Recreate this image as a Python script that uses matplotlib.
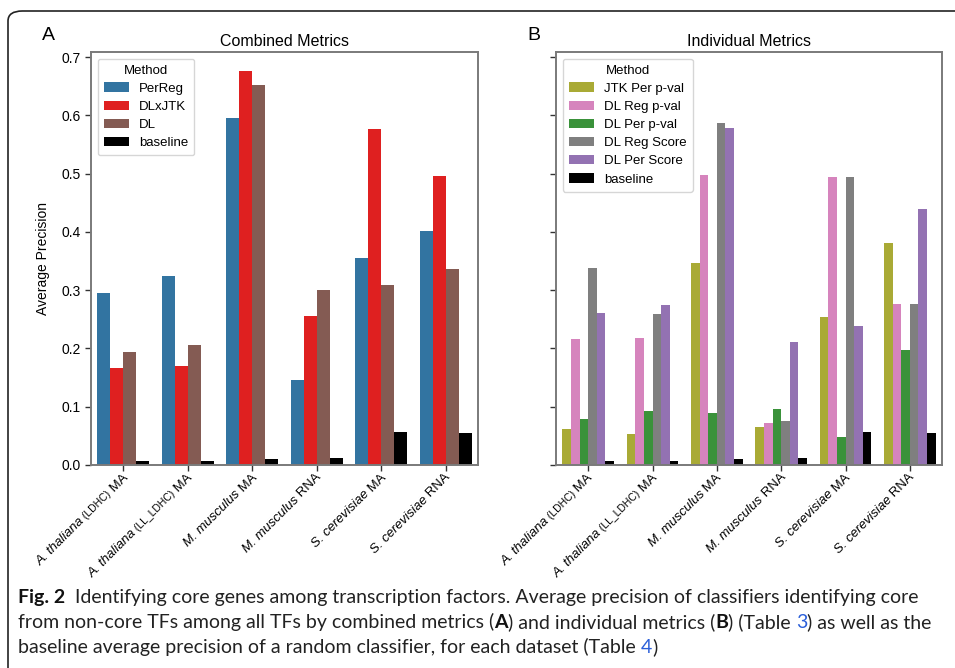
"""Average precision of core-TF classifiers: combined and individual metrics."""

import matplotlib
matplotlib.use("Agg", force=True)
import matplotlib.pyplot as plt
import numpy as np
from matplotlib.patches import FancyBboxPatch
from matplotlib.transforms import IdentityTransform

plt.rcParams["font.family"] = ["Liberation Sans", "DejaVu Sans"]

# dataset labels
species = ["A. thaliana", "A. thaliana", "M. musculus", "M. musculus", "S. cerevisiae", "S. cerevisiae"]
strain = ["(LDHC)", "(LL_LDHC)", "", "", "", ""]
platform = ["MA", "MA", "MA", "RNA", "MA", "RNA"]

# panel A: combined metrics
combined_methods = ["PerReg", "DLxJTK", "DL", "baseline"]
perreg = [0.295, 0.324, 0.595, 0.146, 0.355, 0.401]
dlxjtk = [0.166, 0.170, 0.676, 0.256, 0.576, 0.496]
dl = [0.194, 0.206, 0.653, 0.300, 0.309, 0.336]
baseline = [0.007, 0.007, 0.010, 0.012, 0.057, 0.055]

# panel B: individual metrics
individual_methods = ["JTK Per p-val", "DL Reg p-val", "DL Per p-val", "DL Reg Score", "DL Per Score", "baseline"]
jtk_per_p = [0.062, 0.053, 0.346, 0.065, 0.254, 0.381]
dl_reg_p = [0.216, 0.218, 0.497, 0.072, 0.494, 0.276]
dl_per_p = [0.079, 0.093, 0.089, 0.096, 0.048, 0.197]
dl_reg_score = [0.338, 0.259, 0.587, 0.076, 0.494, 0.276]
dl_per_score = [0.261, 0.274, 0.578, 0.211, 0.238, 0.439]

combined_colors = ["#3274a1", "#df2020", "#845b53", "#000000"]
individual_colors = ["#a9aa35", "#d684bd", "#3a923a", "#7f7f7f", "#9372b2", "#000000"]

W, H = 955, 668
fig = plt.figure(figsize=(W / 100, H / 100), dpi=100)
fig.patch.set_facecolor("white")

# page frame around the figure
frame = FancyBboxPatch((8 / W, -0.2), 1.2, 1 - 11 / H + 0.2, boxstyle="round,pad=0,rounding_size=0.015",
                       transform=fig.transFigure, facecolor="none", edgecolor="#222222", linewidth=1.2)
fig.patches.append(frame)

ax_a = fig.add_axes([91 / W, 1 - 465 / H, (478 - 91) / W, (465 - 52) / H])
ax_b = fig.add_axes([556 / W, 1 - 465 / H, (942 - 556) / W, (465 - 52) / H], sharey=ax_a)


def grouped_bars(ax, series, labels, colors):
    x = np.arange(len(species))
    n = len(series)
    w = 0.8 / n
    for j, (vals, lab, col) in enumerate(zip(series, labels, colors)):
        ax.bar(x + (j - (n - 1) / 2) * w, vals, width=w, color=col, label=lab, linewidth=0)
    ax.set_xlim(-0.5, len(species) - 0.5)
    ax.set_xticks(x)
    ax.set_xticklabels([])
    for side in ["left", "bottom", "top", "right"]:
        ax.spines[side].set_color("#7a7a7a")
        ax.spines[side].set_linewidth(1.4)
    ax.tick_params(axis="both", length=4, width=1, color="#333333", labelsize=10)
    leg = ax.legend(title="Method", loc="upper left", fontsize=9.5, title_fontsize=9.5,
                    handlelength=1.9, handleheight=0.7, borderpad=0.45, labelspacing=0.45)
    leg.get_frame().set_edgecolor("#cccccc")


grouped_bars(ax_a, [perreg, dlxjtk, dl, baseline], combined_methods, combined_colors)
grouped_bars(ax_b, [jtk_per_p, dl_reg_p, dl_per_p, dl_reg_score, dl_per_score, baseline],
             individual_methods, individual_colors)

ax_a.set_ylim(0, 0.709)
ax_a.set_yticks(np.arange(0, 0.71, 0.1))
ax_a.set_yticklabels([f"{v:.1f}" for v in np.arange(0, 0.71, 0.1)])
ax_b.tick_params(axis="y", labelleft=False)
ax_a.set_ylabel("Average Precision", fontsize=10, labelpad=8)
ax_a.set_title("Combined Metrics", fontsize=11.5, pad=4)
ax_b.set_title("Individual Metrics", fontsize=11.5, pad=4)

fig.text(42 / W, 1 - 35 / H, "A", fontsize=14, ha="left", va="center")
fig.text(527 / W, 1 - 35 / H, "B", fontsize=14, ha="left", va="center")

fig.canvas.draw()
renderer = fig.canvas.get_renderer()


def run_width(s, kw):
    t = fig.text(0, 0, s, transform=IdentityTransform(), **kw)
    w = t.get_window_extent(renderer).width
    t.remove()
    return w


def draw_runs(runs, x0, y0, angle=0.0, anchor="left"):
    """Place text runs one after another along a baseline (display px)."""
    widths = [run_width(s, kw) for s, kw in runs]
    c, s_ = np.cos(np.radians(angle)), np.sin(np.radians(angle))
    if anchor == "right":
        total = sum(widths)
        x0, y0 = x0 - total * c, y0 - total * s_
    pos = 0.0
    for (s, kw), w in zip(runs, widths):
        fig.text(x0 + pos * c, y0 + pos * s_, s, transform=IdentityTransform(), rotation=angle,
                 rotation_mode="anchor", ha="left", va="baseline", **kw)
        pos += w


# rotated dataset tick labels with italic species and small strain tag
for ax in (ax_a, ax_b):
    for i in range(len(species)):
        xd, _ = ax.transData.transform((i, 0))
        yd = H - 465
        runs = [(species[i], dict(fontsize=9.5, style="italic"))]
        if strain[i]:
            runs.append((" " + strain[i], dict(fontsize=7.5)))
        runs.append((" " + platform[i], dict(fontsize=9.5)))
        draw_runs(runs, xd + 5, yd - 13, angle=45, anchor="right")

# caption
cap_font = ["Lato", "DejaVu Sans"]
reg = dict(fontsize=14, family=cap_font, color="#222222")
bold = dict(fontsize=14, family=cap_font, color="#111111", weight="bold")
link = dict(fontsize=14, family=cap_font, color="#2b5fd9")
draw_runs([("Fig. 2", bold),
           ("  Identifying core genes among transcription factors. Average precision of classifiers identifying core", reg)],
          18, H - 603)
draw_runs([("from non-core TFs among all TFs by combined metrics (", reg), ("A", bold),
           (") and individual metrics (", reg), ("B", bold), (") (Table ", reg), ("3", link),
           (") as well as the", reg)],
          18, H - 628)
draw_runs([("baseline average precision of a random classifier, for each dataset (Table ", reg), ("4", link),
           (")", reg)],
          18, H - 653)

fig.savefig("out.png", dpi=100)
